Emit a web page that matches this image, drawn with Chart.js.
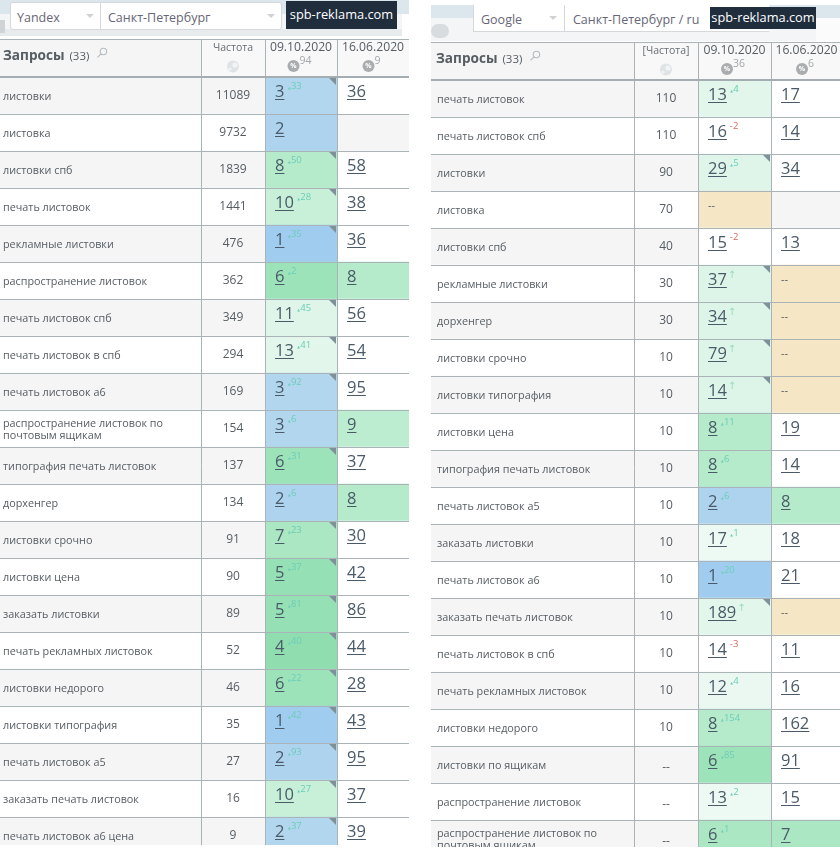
<!DOCTYPE html>
<html lang="ru"><head><meta charset="utf-8">
<script src="https://cdn.jsdelivr.net/npm/chart.js@4"></script>
<style>
html,body{margin:0;padding:0;background:#fff;width:840px;height:853px;overflow:hidden;font-family:"Open Sans",sans-serif}
.wrap{position:absolute;top:0;overflow:hidden}
.abs{position:absolute;white-space:nowrap}
</style></head><body>
<div class="abs" style="left:0;top:0;width:409px;height:14px;background:#dce7ed"></div>
<div class="abs" style="left:0;top:14px;width:402px;height:22px;background:#f4f5f6"></div>
<div class="abs" style="left:0;top:29px;width:402px;height:7px;background:#e8ebed"></div>
<div class="abs" style="left:0;top:20px;width:5px;height:13px;background:#d0d3d5"></div>
<div class="abs" style="left:10px;top:2px;width:270px;height:26px;background:#fff;border:1px solid #d5d9db;border-radius:3px"></div>
<div class="abs" style="left:100px;top:2px;width:1px;height:27px;background:#d5d9db"></div>
<div class="abs" style="left:17px;top:9px;font-size:12.5px;color:#667">Yandex</div>
<div class="abs" style="left:108px;top:9px;font-size:12.5px;color:#667">Санкт-Петербург</div>
<div class="abs" style="left:86px;top:14px;border:4px solid transparent;border-top:4px solid #d0d3d5"></div>
<div class="abs" style="left:267px;top:14px;border:4px solid transparent;border-top:4px solid #d0d3d5"></div>
<div class="abs" style="left:286px;top:1px;width:111px;height:28px;background:#1f2d3d;color:#fff;font-size:12.8px;line-height:27px;text-align:center">spb-reklama.com</div>

<div class="abs" style="left:431px;top:5px;width:409px;height:13px;background:#dce7ed"></div>
<div class="abs" style="left:431px;top:18px;width:409px;height:23px;background:#f4f5f6"></div>
<div class="abs" style="left:431px;top:24px;width:18px;height:14px;background:#d9dcde;border-radius:7px"></div>
<div class="abs" style="left:473px;top:5px;width:295px;height:26px;background:#fff;border-bottom:1px solid #d5d9db;border-left:1px solid #d5d9db"></div>
<div class="abs" style="left:564px;top:5px;width:1px;height:26px;background:#d5d9db"></div>
<div class="abs" style="left:481px;top:11px;font-size:12.5px;color:#667">Google</div>
<div class="abs" style="left:573px;top:11px;font-size:12.5px;color:#667">Санкт-Петербург / ru</div>
<div class="abs" style="left:549px;top:16px;border:4px solid transparent;border-top:4px solid #d0d3d5"></div>
<div class="abs" style="left:710px;top:7px;width:106px;height:22px;background:#1f2d3d;color:#fff;font-size:12.8px;line-height:21px;text-align:center">spb-reklama.com</div>
<div class="abs" style="left:816px;top:18px;width:24px;height:23px;background:#fbfbfb"></div>

<div class="wrap" style="left:0;width:409px;height:845px"><canvas id="leftTable"></canvas></div>
<div class="wrap" style="left:431px;width:409px;height:847px"><canvas id="rightTable"></canvas></div>
<script>
// ---- data: Yandex table ----
const dates = ['09.10.2020', '16.06.2020'];
const yandexQueries = ['листовки','листовка','листовки спб','печать листовок','рекламные листовки','распространение листовок','печать листовок спб','печать листовок в спб','печать листовок а6',['распространение листовок по','почтовым ящикам'],'типография печать листовок','дорхенгер','листовки срочно','листовки цена','заказать листовки','печать рекламных листовок','листовки недорого','листовки типография','печать листовок а5','заказать печать листовок','печать листовок а6 цена'];
const yandexFreq = ['11089','9732','1839','1441','476','362','349','294','169','154','137','134','91','90','89','52','46','35','27','16','9'];
const yandexRankA = ['3','2','8','10','1','6','11','13','3','3','6','2','7','5','5','4','6','1','2','10','2'];
const yandexDelta = [33,null,50,28,35,2,45,41,92,6,31,6,23,37,81,40,22,42,93,27,37];
const yandexRankB = ['36','','58','38','36','8','56','54','95','9','37','8','30','42','86','44','28','43','95','37','39'];
const yandexCorner = [1,0,1,1,1,0,1,1,1,0,1,0,1,1,1,1,1,1,1,1,1];
const yandexPct = [94, 9];
// ---- data: Google table ----
const googleQueries = ['печать листовок','печать листовок спб','листовки','листовка','листовки спб','рекламные листовки','дорхенгер','листовки срочно','листовки типография','листовки цена','типография печать листовок','печать листовок а5','заказать листовки','печать листовок а6','заказать печать листовок','печать листовок в спб','печать рекламных листовок','листовки недорого','листовки по ящикам','распространение листовок',['распространение листовок по','почтовым ящикам']];
const googleFreq = ['110','110','90','70','40','30','30','10','10','10','10','10','10','10','10','10','10','10','--','--','--'];
const googleRankA = ['13','16','29','--','15','37','34','79','14','8','8','2','17','1','189','14','12','8','6','13','6'];
const googleDelta = [4,-2,5,null,-2,'↑','↑','↑','↑',11,6,6,1,20,'↑',-3,4,154,85,2,1];
const googleRankB = ['17','14','34','','13','--','--','--','--','19','14','8','18','21','--','11','16','162','91','15','7'];
const googleCorner = [0,0,1,0,0,1,1,1,1,0,0,0,0,0,1,0,0,0,0,0,0];
const googlePct = [36, 6];

// ---- styles ----
const fill = {w:'#ffffff',g:'#f5f5f6',y:'#f5e7c6',b1:'#a0ccf0',b2:'#aed3ef',b3:'#b3d6ef',
  g4:'#90deb0',g5:'#96e0b5',g6:'#9de3ba',g7:'#abe7c3',g8:'#b5ebcb',g9:'#bcedd1',g10:'#c8f0d9',
  g11:'#dff5e9',g13:'#e2f6eb',gn:'#dcf5e8',g12:'#ebf8f2',g17:'#edf9f3'};
const yandexFillA = ['b3','b2','g8','g10','b1','g6','g11','g13','b3','b3','g6','b2','g7','g5','g5','g4','g6','b1','b2','g10','b3'];
const yandexFillB = ['w','g','w','w','w','g8','w','w','w','g9','w','g8','w','w','w','w','w','w','w','w','w'];
const googleFillA = ['g13','w','g11','y','w','gn','gn','gn','gn','g8','g8','b2','g17','b1','g13','w','g12','g8','g6','g17','g7'];
const googleFillB = ['w','w','w','g','w','y','y','y','y','w','w','g8','w','w','y','w','w','w','w','w','g7'];
const INK='#555d63', RANK='#4a5a68', LINE='#a9b3b8', TEAL='#6ccdb8', RED='#d4685c';

function zebra(n){const a=[];for(let i=0;i<n;i++)a.push(i%2?fill.w:fill.g);return a;}

const tablePlugin = {
  id:'tablePlugin',
  beforeDatasetsDraw(c){
    const o=c.options.plugins.tablePlugin, ctx=c.ctx, x=c.scales.x, top=c.chartArea.top, hTop=top-o.headH;
    const edges=o.edges.map(v=>x.getPixelForValue(v));
    ctx.save();
    ctx.fillStyle='#f5f5f6'; ctx.fillRect(edges[0],hTop,edges[1]-edges[0],o.headH);
    ctx.fillStyle='#f8f8f9'; ctx.fillRect(edges[1],hTop,edges[4]-edges[1],o.headH);
    ctx.restore();
  },
  afterDraw(c){
    const o=c.options.plugins.tablePlugin, ctx=c.ctx, x=c.scales.x, y=c.scales.y, top=c.chartArea.top;
    const edges=o.edges.map(v=>x.getPixelForValue(v));
    const hTop=top-o.headH, rowH=y.getPixelForValue(1)-y.getPixelForValue(0);
    ctx.save();
    // header frame
    ctx.strokeStyle=LINE; ctx.lineWidth=1;
    ctx.beginPath(); ctx.moveTo(edges[0],hTop+.5); ctx.lineTo(edges[4],hTop+.5);
    edges.slice(1,4).forEach(e=>{ctx.moveTo(Math.round(e)+.5,hTop);ctx.lineTo(Math.round(e)+.5,top);});
    ctx.stroke();
    ctx.lineWidth=2; ctx.strokeStyle='#a3adb2';
    ctx.beginPath(); ctx.moveTo(edges[0],top); ctx.lineTo(edges[4],top); ctx.stroke();
    // header text
    ctx.textBaseline='middle'; ctx.textAlign='left'; ctx.fillStyle=INK;
    ctx.font='700 13.6px "Open Sans"'; ctx.fillText('Запросы',o.headPad,top-21);
    const w=ctx.measureText('Запросы').width;
    ctx.font='11.5px "Open Sans"'; ctx.fillText('(33)',o.headPad+w+5,top-20.5);
    const sx=o.headPad+w+39;
    ctx.strokeStyle='#b5bcc0'; ctx.lineWidth=1.1; ctx.beginPath(); ctx.arc(sx,top-25.5,3.2,0,7);
    ctx.moveTo(sx-2.4,top-23.2); ctx.lineTo(sx-6,top-19.6); ctx.stroke();
    ctx.textAlign='center'; ctx.fillStyle='#666d72';
    ctx.font='10.5px "Open Sans"'; ctx.fillText(o.freqTitle,(edges[1]+edges[2])/2,top-29);
    const gx=(edges[1]+edges[2])/2;
    ctx.fillStyle='#dfe3e5'; ctx.beginPath(); ctx.arc(gx,top-10.5,6,0,7); ctx.fill();
    ctx.fillStyle='#f1f3f4'; ctx.beginPath(); ctx.arc(gx+2,top-12,2.6,0,7); ctx.arc(gx-3,top-8,1.6,0,7); ctx.fill();
    [0,1].forEach(k=>{
      const cx=(edges[2+k]+edges[3+k])/2;
      ctx.textAlign='center'; ctx.fillStyle=INK; ctx.font='12.2px "Open Sans"';
      ctx.fillText(dates[k],cx,top-29);
      const s=String(o.pct[k]); ctx.font='10.5px "Open Sans"'; const sw=ctx.measureText(s).width;
      const ix=cx-1.5-sw/2;
      ctx.fillStyle='#a9adb0'; ctx.beginPath(); ctx.arc(ix,top-11,6,0,7); ctx.fill();
      ctx.fillStyle='#fff'; ctx.font='700 7px "Open Sans"'; ctx.fillText('%',ix,top-11);
      ctx.fillStyle='#a3a8ab'; ctx.textAlign='left'; ctx.font='10.5px "Open Sans"'; ctx.fillText(s,ix+6,top-16);
    });
    // rows
    c.data.labels.forEach((_,i)=>{
      const cy=y.getPixelForValue(i), rTop=cy-rowH/2;
      ctx.textAlign='center'; ctx.textBaseline='middle'; ctx.fillStyle=INK; ctx.font='12px "Open Sans"';
      ctx.fillText(o.freq[i],(edges[1]+edges[2])/2,cy+(o.freq[i]==='--'?3:.5));
      [[o.rankA,edges[2]],[o.rankB,edges[3]]].forEach(([arr,ex],k)=>{
        const t=arr[i]; if(!t) return;
        const tx=Math.round(ex)+10; ctx.textAlign='left';
        if(t==='--'){ctx.font='11px "Open Sans"';ctx.fillStyle=INK;ctx.textBaseline='middle';ctx.fillText(t,tx,rTop+15);return;}
        ctx.font='16.5px "Open Sans"'; ctx.fillStyle=RANK; ctx.textBaseline='alphabetic';
        ctx.fillText(t,tx,rTop+20);
        const tw=ctx.measureText(t).width;
        ctx.strokeStyle=RANK; ctx.lineWidth=1; ctx.beginPath(); ctx.moveTo(tx,rTop+22.5); ctx.lineTo(tx+tw,rTop+22.5); ctx.stroke();
        if(k===0 && o.delta[i]!==null){
          const d=o.delta[i];
          ctx.textBaseline='middle'; ctx.font='9.5px "Open Sans"';
          if(d==='↑'){ctx.fillStyle='#9adcc0';ctx.font='10px "DejaVu Sans"';ctx.fillText(d,tx+tw+1,rTop+10);}
          else if(d<0){ctx.fillStyle=RED;ctx.fillText(String(d),tx+tw+3,rTop+9.5);}
          else{
            ctx.fillStyle=TEAL; ctx.font='3.5px "DejaVu Sans"'; ctx.fillText('▲',tx+tw+3.5,rTop+11);
            ctx.font='9.5px "Open Sans"'; ctx.fillText(String(d),tx+tw+6.5,rTop+9.5);
          }
        }
      });
      if(o.corner[i]){
        const cr=edges[3]-1;
        ctx.fillStyle='#7e9199'; ctx.beginPath(); ctx.moveTo(cr-7,rTop+1); ctx.lineTo(cr,rTop+1); ctx.lineTo(cr,rTop+8); ctx.closePath(); ctx.fill();
      }
    });
    ctx.restore();
  }
};

function makeTable(id,t){
  const n=t.queries.length, widths=t.widths, edges=[0];
  widths.forEach(v=>edges.push(edges[edges.length-1]+v));
  const col=(k,label,colors)=>({label,data:t.queries.map(()=>widths[k]),backgroundColor:colors,borderWidth:0,stack:'s'});
  new Chart(document.getElementById(id),{
    type:'bar',
    data:{labels:t.queries,datasets:[
      col(0,'Запросы',zebra(n)),
      col(1,t.freqTitle,zebra(n)),
      col(2,dates[0],t.fillA.map(k=>fill[k])),
      col(3,dates[1],t.fillB.map(k=>fill[k]))
    ]},
    options:{
      indexAxis:'y',responsive:false,animation:false,devicePixelRatio:1,
      barPercentage:1,categoryPercentage:1,
      layout:{padding:{top:t.top,bottom:1,left:0,right:0}},
      plugins:{legend:{display:false},tooltip:{enabled:false},
        tablePlugin:{edges,headH:t.headH,headPad:t.headPad,freqTitle:t.freqTitle,freq:t.freq,rankA:t.rankA,rankB:t.rankB,delta:t.delta,corner:t.corner,pct:t.pct}},
      scales:{
        x:{stacked:true,min:0,max:edges[4],display:true,border:{display:false},
           afterFit(s){s.height=0;s.paddingLeft=0;s.paddingRight=0;},
           afterBuildTicks(s){s.ticks=edges.slice(1,4).map(value=>({value}));},
           ticks:{display:false},grid:{color:LINE,drawTicks:false,z:1}},
        y:{stacked:true,display:true,border:{display:false},
           afterFit(s){s.width=0;s.paddingTop=0;s.paddingBottom=0;},
           ticks:{mirror:true,autoSkip:false,padding:t.pad,labelOffset:1,z:2,color:INK,font:{family:'"Open Sans"',size:10.8,lineHeight:1.12}},
           grid:{color:LINE,drawTicks:false,z:1}}
      }
    },
    plugins:[tablePlugin]
  });
}
function sizeCanvas(id,w,h){const e=document.getElementById(id);e.width=w;e.height=h;e.style.width=w+'px';e.style.height=h+'px';}
sizeCanvas('leftTable',409,855);
sizeCanvas('rightTable',411,858);
makeTable('leftTable',{queries:yandexQueries,freq:yandexFreq,rankA:yandexRankA,rankB:yandexRankB,delta:yandexDelta,corner:yandexCorner,pct:yandexPct,fillA:yandexFillA,fillB:yandexFillB,widths:[201,64,72,72],top:77,headH:38,pad:3,headPad:3,freqTitle:'Частота'});
makeTable('rightTable',{queries:googleQueries,freq:googleFreq,rankA:googleRankA,rankB:googleRankB,delta:googleDelta,corner:googleCorner,pct:googlePct,fillA:googleFillA,fillB:googleFillB,widths:[203,64,73,71],top:80,headH:38,pad:6,headPad:5,freqTitle:'[Частота]'});
</script>
</body></html>
